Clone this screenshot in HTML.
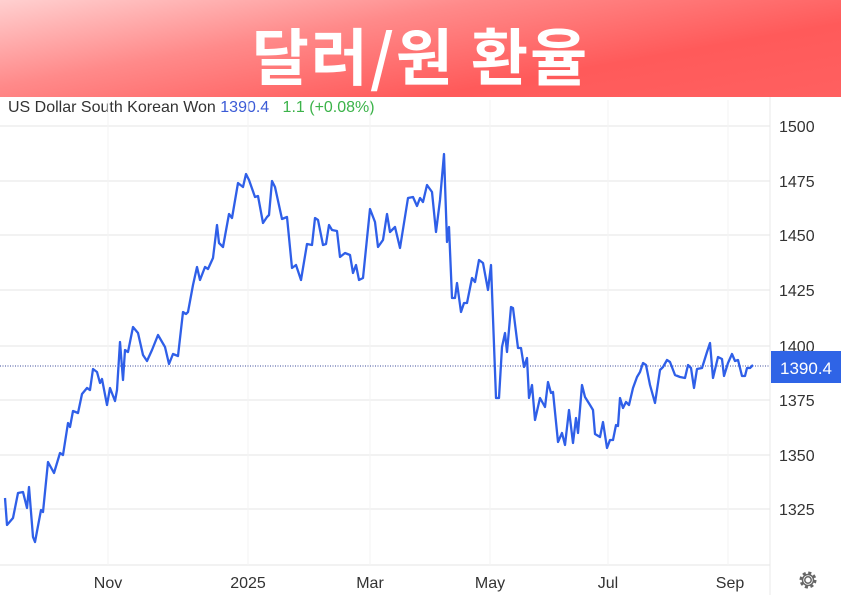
<!DOCTYPE html>
<html><head><meta charset="utf-8"><style>
body{margin:0;width:841px;height:595px;overflow:hidden;background:#fff;font-family:"Liberation Sans",sans-serif;position:relative}
.hdr{position:absolute;left:0;top:0;width:841px;height:97px;background:linear-gradient(170deg,#ffd0d0 0%,#ff8a8a 35%,#ff5a5a 70%,#ff6060 100%)}
.ttl{position:absolute;left:0;top:8px;width:841px;text-align:center;color:#fff;font:bold 62px "Noto Sans CJK KR","NanumGothic",sans-serif;letter-spacing:2px}
.leg{position:absolute;left:8px;top:99px;font-size:16px;color:#333}
</style></head><body>
<div class="hdr"></div>
<div class="ttl">달러/원 환율</div>
<div class="leg">US Dollar South Korean Won <span style="color:#3b5bd6">1390.4</span>&nbsp;&nbsp; <span style="color:#3cb34a">1.1 (+0.08%)</span></div>
<svg width="841" height="595" style="position:absolute;left:0;top:0" font-family="Liberation Sans, sans-serif">
<g stroke="#e6e6e6" stroke-width="1">
<line x1="0" y1="126" x2="770" y2="126"/><line x1="0" y1="181" x2="770" y2="181"/><line x1="0" y1="235" x2="770" y2="235"/><line x1="0" y1="290" x2="770" y2="290"/><line x1="0" y1="346" x2="770" y2="346"/><line x1="0" y1="400" x2="770" y2="400"/><line x1="0" y1="455" x2="770" y2="455"/><line x1="0" y1="509" x2="770" y2="509"/><line x1="0" y1="565" x2="770" y2="565"/>
</g>
<g stroke="#f3f3f3"><line x1="108" y1="100" x2="108" y2="565"/><line x1="248" y1="100" x2="248" y2="565"/><line x1="370" y1="100" x2="370" y2="565"/><line x1="490" y1="100" x2="490" y2="565"/><line x1="608" y1="100" x2="608" y2="565"/><line x1="728" y1="100" x2="728" y2="565"/><line x1="770" y1="97" x2="770" y2="595" stroke="#e8e8e8"/></g>
<line x1="0" y1="366" x2="770" y2="366" stroke="#3b4a9a" stroke-dasharray="1,1.5"/>
<polyline fill="none" stroke="#2f5fe8" stroke-width="2.3" stroke-linejoin="round" points="5,498 7,525 13,518 18,493 23,492 27,508 29,487 33,537 35,542 41,510 43,512 48,462 54,473 60,453 63,455 68,423 70,427 73,411 78,413 82,394 87,388 90,390 93,369 97,372 100,383 102,379 107,405 110,388 115,401 117,390 120,342 123,380 125,350 128,352 133,327 138,333 143,355 147,361 152,350 158,335 165,347 169,364 173,354 178,356 183,312 186,314 188,312 193,285 197,267 200,280 205,267 208,269 213,258 217,225 219,243 223,247 229,214 232,218 238,183 243,187 246,174 249,180 255,197 258,196 263,223 267,217 269,215 272,181 275,187 282,219 287,217 292,268 296,265 301,280 307,244 312,245 315,218 318,220 323,245 326,244 329,225 332,230 337,231 340,257 345,253 350,255 353,273 356,265 359,280 363,278 370,209 375,222 378,247 383,240 387,214 390,232 395,227 400,248 408,198 413,197 417,206 420,198 423,202 427,185 432,192 436,232 440,200 444,154 447,242 449,227 452,298 455,298 457,283 461,312 464,303 467,303 472,278 475,282 479,260 483,263 488,290 491,265 496,398 499,398 502,347 505,333 507,352 511,307 513,308 518,348 521,348 524,367 527,358 529,398 532,385 535,420 540,398 545,407 548,382 551,393 553,392 558,442 562,433 565,445 569,410 573,443 576,418 578,433 582,385 585,397 590,405 593,410 595,434 600,437 603,422 607,448 610,440 613,440 616,425 618,426 620,398 623,408 626,402 629,405 633,388 637,377 640,372 643,363 646,365 650,385 655,403 660,370 663,367 667,360 670,362 675,375 680,377 685,378 688,365 691,368 694,388 697,369 702,368 707,352 710,343 713,378 718,357 722,359 724,376 728,363 732,354 735,361 738,360 742,376 745,376 747,368 750,368 753,365"/>
<g font-size="16" fill="#333">
<text x="779" y="132">1500</text><text x="779" y="187">1475</text><text x="779" y="241">1450</text><text x="779" y="296">1425</text><text x="779" y="352">1400</text><text x="779" y="406">1375</text><text x="779" y="461">1350</text><text x="779" y="515">1325</text>
<text x="108" y="588" text-anchor="middle">Nov</text><text x="248" y="588" text-anchor="middle">2025</text><text x="370" y="588" text-anchor="middle">Mar</text><text x="490" y="588" text-anchor="middle">May</text><text x="608" y="588" text-anchor="middle">Jul</text><text x="730" y="588" text-anchor="middle">Sep</text>
</g>
<rect x="771" y="351" width="70" height="32" fill="#2f64e6"/>
<text x="780" y="374" font-size="17" fill="#fff">1390.4</text>
<g transform="translate(808,580)" fill="none" stroke="#666" stroke-width="1.5"><circle r="3.2"/><circle r="7" stroke-dasharray="3,2.5" stroke-width="3"/><circle r="5.5"/></g>
</svg>
</body></html>
